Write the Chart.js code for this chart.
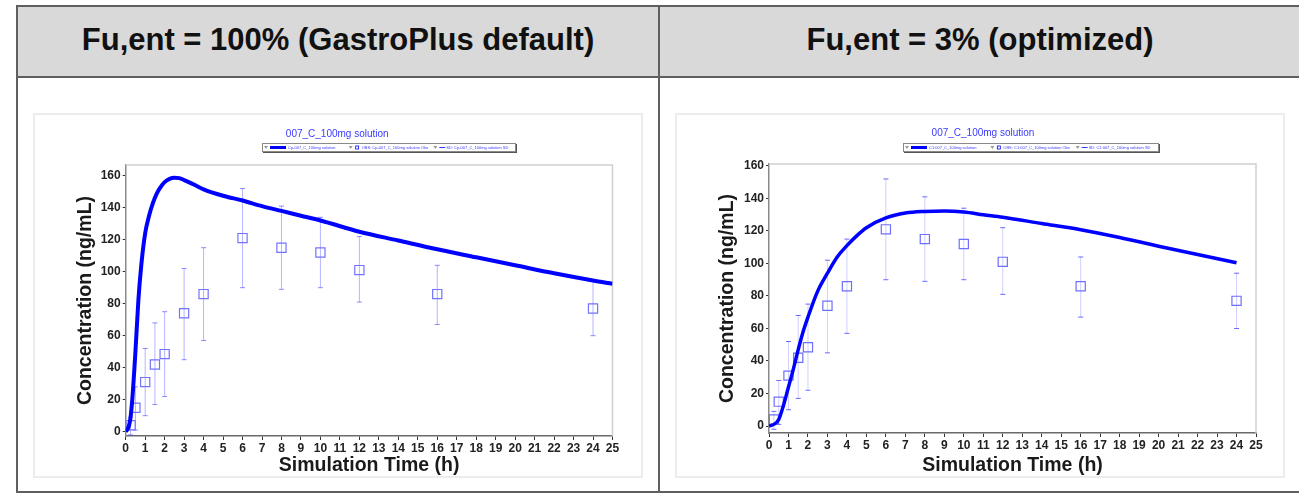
<!DOCTYPE html>
<html>
<head>
<meta charset="utf-8">
<title>Fu,ent comparison</title>
<script src="https://cdn.jsdelivr.net/npm/chart.js@4.4.1/dist/chart.umd.min.js"></script>
<style>
  body { margin: 0; background: #fff; width: 1299px; height: 494px; overflow: hidden; position: relative; font-family: "Liberation Sans", Arial, sans-serif; }
  .abs { position: absolute; }
  .line { position: absolute; background: #5f5f5f; }
  .head { position: absolute; top: 7px; height: 69px; background: #d9d9d9; }
  .headtxt { position: absolute; top: 22px; font-weight: bold; font-size: 31px; color: #111; text-align: center; white-space: nowrap; }
  .panel { position: absolute; top: 113px; height: 361px; border: 2px solid #ececec; }
</style>
</head>
<body>
<div class="head" style="left:17px;width:1282px"></div>
<div class="line" style="left:16px;top:5px;width:1283px;height:2px"></div>
<div class="line" style="left:16px;top:76px;width:1283px;height:2px"></div>
<div class="line" style="left:16px;top:5px;width:2px;height:488px"></div>
<div class="line" style="left:658px;top:5px;width:2px;height:488px"></div>
<div class="line" style="left:16px;top:491px;width:1283px;height:2px"></div>
<div class="headtxt" style="left:18px;width:640px">Fu,ent = 100% (GastroPlus default)</div>
<div class="headtxt" style="left:660px;width:640px">Fu,ent = 3% (optimized)</div>
<div class="panel" style="left:33px;width:606px"></div>
<div class="panel" style="left:675px;width:606px"></div>
<canvas id="left" class="abs" width="580" height="366" style="left:62px;top:114px"></canvas>
<canvas id="right" class="abs" width="572" height="366" style="left:710px;top:114px"></canvas>
<script>
// observed data (same study in both panels), mean and SD range
var obsTime = [0.25, 0.5, 1, 1.5, 2, 3, 4, 6, 8, 10, 12, 16, 24];
var obsMean = [4, 15, 31, 42, 48.5, 74, 86, 121, 115, 112, 101, 86, 77];
var obsLow  = [-2, 1, 10, 17, 22, 45, 57, 90, 89, 90, 81, 67, 60];
var obsHigh = [9, 28, 52, 68, 75, 102, 115, 152, 141, 134, 122, 104, 94];

// simulated profile, Fu,ent = 100%
var simTimeDefault = [0, 0.15, 0.25, 0.35, 0.5, 0.65, 0.8, 1.0, 1.2, 1.4, 1.6, 1.8, 2.0, 2.25, 2.5, 2.75, 3.0, 3.5, 4, 5, 6, 7, 8, 9, 10, 12, 14, 16, 18, 20, 22, 24, 25];
var simConcDefault = [0, 3, 9, 22, 50, 82, 104, 124, 135, 143, 149, 153, 156, 158, 158.8, 158.5, 157.3, 154.5, 151.5, 147.5, 144.5, 141, 138, 135, 132, 125, 119.5, 114, 109, 104, 99, 94.5, 92.5];

// simulated profile, Fu,ent = 3%
var simTimeOpt = [0, 0.25, 0.5, 0.75, 1, 1.25, 1.5, 1.75, 2, 2.5, 3, 3.5, 4, 4.5, 5, 6, 7, 8, 9, 10, 11, 12, 14, 16, 18, 20, 22, 24];
var simConcOpt = [0, 1, 4, 13, 24, 35, 47, 58, 67, 83, 94, 104, 111, 117, 122, 128, 131, 132, 132.3, 131.7, 130, 128.4, 124.6, 120.8, 116, 110.6, 105.5, 100.4];

var yTickValues = [0, 20, 40, 60, 80, 100, 120, 140, 160];
var chartTitle = '007_C_100mg solution';
var legendLeft = ['Cp-007_C_100mg solution', 'OBS: Cp-007_C_100mg solution Obs', 'SD: Cp-007_C_100mg solution SD'];
var legendRight = ['C1:007_C_100mg solution', 'OBS: C1:007_C_100mg solution Obs', 'SD: C1:007_C_100mg solution SD'];

Chart.defaults.font.family = '"Liberation Sans", Arial, sans-serif';

function pairs(xs, ys) {
  return xs.map(function(x, i) { return {x: x, y: ys[i]}; });
}

// error bars: low -> high, then a null to break the line
function errSegs() {
  var out = [];
  for (var i = 0; i < obsTime.length; i++) {
    out.push({x: obsTime[i], y: obsLow[i]});
    out.push({x: obsTime[i], y: obsHigh[i]});
    out.push({x: obsTime[i], y: null});
  }
  return out;
}

// light frame round the plot + the little boxed legend strip
var gpDecor = {
  id: 'gpDecor',
  beforeDatasetsDraw: function(chart) {
    var a = chart.chartArea, ctx = chart.ctx;
    ctx.save();
    ctx.strokeStyle = '#cfcfcf';
    ctx.lineWidth = 1.5;
    ctx.beginPath();
    ctx.moveTo(a.left, a.top); ctx.lineTo(a.right, a.top); ctx.lineTo(a.right, a.bottom);
    ctx.stroke();
    ctx.restore();
  },
  afterDraw: function(chart, args, opts) {
    var ctx = chart.ctx, x = opts.x, y = opts.y, w = opts.w, h = opts.h;
    ctx.save();
    ctx.fillStyle = '#555';
    ctx.fillRect(x + 1, y + 1, w, h);
    ctx.fillStyle = '#fff';
    ctx.fillRect(x, y, w, h);
    ctx.strokeStyle = '#8a8a8a';
    ctx.lineWidth = 1;
    ctx.strokeRect(x + 0.5, y + 0.5, w - 1, h - 1);
    var part = w / 3;
    ctx.font = '4px "Liberation Sans", Arial, sans-serif';
    ctx.textBaseline = 'middle';
    chart.data.datasets.forEach(function(ds, i) {
      var x0 = x + i * part + 2, cy = y + h / 2;
      ctx.fillStyle = '#9a9a9a';
      ctx.beginPath();
      ctx.moveTo(x0, cy - 1.5); ctx.lineTo(x0 + 4, cy - 1.5); ctx.lineTo(x0 + 2, cy + 1.5);
      ctx.fill();
      ctx.strokeStyle = '#0000ff';
      if (i === 0) {
        ctx.lineWidth = 3;
        ctx.beginPath(); ctx.moveTo(x0 + 6, cy); ctx.lineTo(x0 + 22, cy); ctx.stroke();
      } else if (i === 1) {
        ctx.lineWidth = 0.8;
        ctx.strokeRect(x0 + 7, cy - 1.5, 3, 3);
      } else {
        ctx.lineWidth = 0.8;
        ctx.beginPath(); ctx.moveTo(x0 + 6, cy); ctx.lineTo(x0 + 12, cy); ctx.stroke();
      }
      ctx.fillStyle = '#3b3bff';
      ctx.fillText(ds.label, x0 + (i === 0 ? 24 : 13), cy);
    });
    ctx.restore();
  }
};

function makeChart(id, s) {
  var ctx = document.getElementById(id).getContext('2d');
  return new Chart(ctx, {
    type: 'line',
    data: {
      datasets: [
        {
          label: s.labels[0],
          data: pairs(s.simTime, s.simConc),
          borderColor: '#0000ff',
          borderWidth: s.curveWidth,
          pointRadius: 0,
          cubicInterpolationMode: 'monotone'
        },
        {
          label: s.labels[1],
          data: pairs(obsTime, obsMean),
          showLine: false,
          pointStyle: 'rect',
          pointRadius: 6.5,
          pointBorderWidth: 1.2,
          pointBorderColor: s.squareColor,
          pointBackgroundColor: 'rgba(255,255,255,0)'
        },
        {
          label: s.labels[2],
          data: errSegs(),
          borderColor: s.barColor,
          borderWidth: 1,
          spanGaps: false,
          pointStyle: 'line',
          pointRadius: 2.5,
          pointBorderWidth: 1,
          pointBorderColor: s.capColor
        }
      ]
    },
    options: {
      responsive: false,
      animation: false,
      events: [],
      layout: { padding: { left: 0, right: s.padRight, top: 0, bottom: 0 } },
      plugins: {
        legend: { display: false },
        tooltip: { enabled: false },
        title: {
          display: true,
          text: chartTitle,
          color: '#3a3aff',
          font: { size: 10, weight: 'normal' },
          padding: { top: s.titleTop, bottom: s.titleBottom }
        },
        gpDecor: s.legendBox
      },
      scales: {
        x: {
          type: 'linear',
          min: 0,
          max: 25,
          afterFit: function(scale) { scale.height = s.xHeight; },
          ticks: { stepSize: 1, autoSkip: false, maxRotation: 0, padding: 1, color: '#222', font: { size: 12, weight: 'bold' } },
          grid: { drawOnChartArea: false, drawTicks: true, tickLength: 4, color: '#333' },
          border: { display: true, color: '#6a6a6a', width: 1.5 },
          title: { display: true, text: 'Simulation Time (h)', color: '#1a1a1a', font: { size: 19.5, weight: 'bold' }, padding: { top: 0, bottom: 2.3 } }
        },
        y: {
          type: 'linear',
          min: s.yMin,
          max: s.yMax,
          afterFit: function(scale) { scale.width = s.yWidth; },
          afterBuildTicks: function(scale) { scale.ticks = yTickValues.map(function(v) { return {value: v}; }); },
          ticks: { padding: 2, color: '#222', font: { size: 12, weight: 'bold' } },
          grid: { drawOnChartArea: false, drawTicks: true, tickLength: 3, color: '#333' },
          border: { display: true, color: '#8a8a8a', width: 1.5 },
          title: { display: true, text: 'Concentration (ng/mL)', color: '#1a1a1a', font: { size: 19.5, weight: 'bold' }, padding: { top: s.yTitlePad, bottom: 0 } }
        }
      }
    },
    plugins: [gpDecor]
  });
}

makeChart('left', {
  simTime: simTimeDefault, simConc: simConcDefault, labels: legendLeft,
  curveWidth: 4, squareColor: '#7272ff', barColor: 'rgba(120,120,255,0.55)', capColor: 'rgba(90,90,255,0.7)',
  padRight: 29.5, titleTop: 14.6, titleBottom: 24.4, xHeight: 44, yWidth: 63.7, yTitlePad: 12.3,
  yMin: -2.7, yMax: 166.7,
  legendBox: { x: 200, y: 29, w: 254, h: 9 }
});

makeChart('right', {
  simTime: simTimeOpt, simConc: simConcOpt, labels: legendRight,
  curveWidth: 3.5, squareColor: '#6e6eff', barColor: 'rgba(150,150,255,0.45)', capColor: 'rgba(70,70,255,0.8)',
  padRight: 26, titleTop: 13, titleBottom: 25, xHeight: 47, yWidth: 59, yTitlePad: 6.3,
  yMin: -4.3, yMax: 161.2,
  legendBox: { x: 193, y: 29, w: 256, h: 9 }
});
</script>
</body>
</html>
